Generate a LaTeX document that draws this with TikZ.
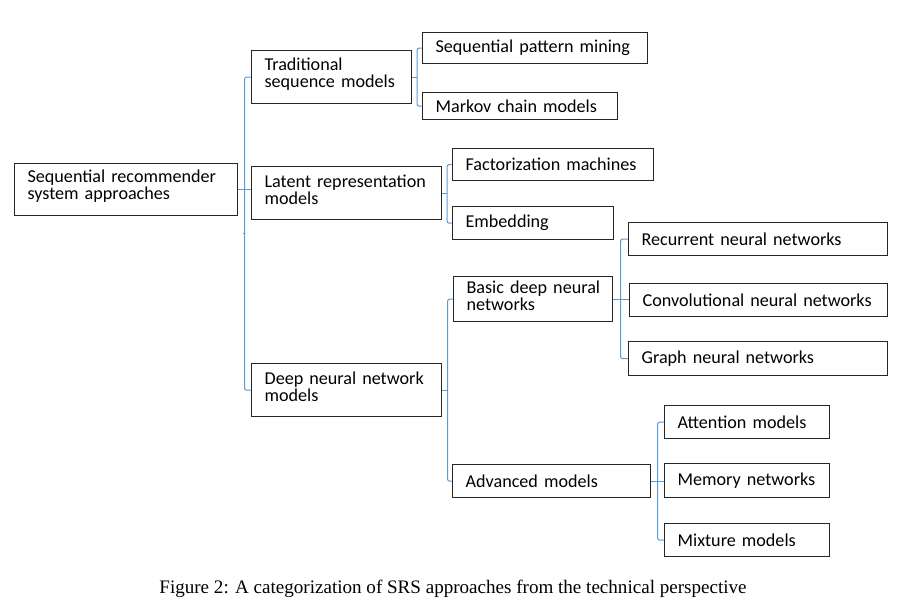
\documentclass[tikz,border=0pt]{standalone}
\usepackage{fontspec}
\setmainfont{Carlito}
\newfontfamily\capfont{Liberation Serif}
\usetikzlibrary{calc}
\definecolor{linkblue}{RGB}{91,155,213}

\begin{document}
\begin{tikzpicture}[x=0.75pt, y=-0.75pt,
  box/.style 2 args={draw=black!85, line width=0.9pt, anchor=north west, align=left,
    inner xsep=9.75pt, inner ysep=0pt, text width={(#1-26)*0.75pt}, minimum height={#2*0.75pt},
    font=\fontsize{13.6}{12.8}\selectfont, execute at begin node={\hyphenpenalty=10000 \hbadness=10000 }},
  twoline/.style={execute at end node={\endgraf\nointerlineskip\vspace{4.5pt}\hbox{}}},
  link/.style={draw=linkblue, line width=0.75pt, rounded corners=1.5pt}]
\useasboundingbox (0,0) rectangle (909,611);
% categories
\node[box={223}{52}, twoline] (root) at (14,163) {Sequential recommender\\system approaches};
\node[box={160}{53}, twoline] (tsm) at (251,50) {Traditional\\sequence models};
\node[box={190}{53}, twoline] (lrm) at (251,166) {Latent representation\\models};
\node[box={190}{53}, twoline] (dnn) at (251,363) {Deep neural network\\models};
\node[box={225}{31}] (spm) at (422,32) {Sequential pattern mining};
\node[box={195}{27}] (mcm) at (422,92) {Markov chain models};
\node[box={201}{32}] (fm) at (452,148) {Factorization machines};
\node[box={161}{33}] (emb) at (452,206) {Embedding};
\node[box={159}{45}, twoline] (bdn) at (453,276) {\mbox{Basic deep neural}\\networks};
\node[box={198}{33}] (adv) at (452,464) {Advanced models};
\node[box={259}{33}] (rnn) at (628,222) {Recurrent neural networks};
\node[box={258}{33}] (cnn) at (629,283) {Convolutional neural networks};
\node[box={259}{34}] (gnn) at (628,341) {Graph neural networks};
\node[box={165}{33}] (att) at (664,405) {Attention models};
\node[box={165}{34}] (mem) at (664,463) {Memory networks};
\node[box={165}{33}] (mix) at (664,523) {Mixture models};
% brackets
\coordinate (rb) at ($(root.east)!0.5!(lrm.west)$);
\coordinate (rm) at ($(tsm.west)!0.5!(dnn.west)$);
\draw[link] (tsm.west) -| (rb) |- (dnn.west);
\draw[link] (root.east) -- (root.east -| lrm.west);
\draw[link] (rb |- rm) -- ++(-2,0);
\coordinate (tb) at ($(tsm.east)!0.5!(spm.west)$);
\draw[link] (spm.west) -| (tb) |- (mcm.west);
\draw[link] (tsm.east) -- (tsm.east -| tb);
\coordinate (lb) at ($(lrm.east)!0.5!(fm.west)$);
\draw[link] (fm.west) -| (lb) |- (emb.west);
\draw[link] (lrm.east) -- (lrm.east -| lb);
\coordinate (db) at ($(dnn.east)!0.5!(bdn.west)$);
\draw[link] (bdn.west) -| (db) |- (adv.west);
\draw[link] (dnn.east) -- (dnn.east -| db);
\coordinate (bb) at ($(bdn.east)!0.5!(rnn.west)$);
\draw[link] (rnn.west) -| (bb) |- (gnn.west);
\draw[link] (bdn.east) -- (bdn.east -| cnn.west);
\coordinate (ab) at ($(adv.east)!0.5!(att.west)$);
\draw[link] (att.west) -| (ab) |- (mix.west);
\draw[link] (adv.east) -- (adv.east -| mem.west);
% caption
\node[font=\capfont\fontsize{14.3}{16}\selectfont] (cap) at (453,589) {Figure 2: A categorization of SRS approaches from the technical perspective};
\end{tikzpicture}
\end{document}
